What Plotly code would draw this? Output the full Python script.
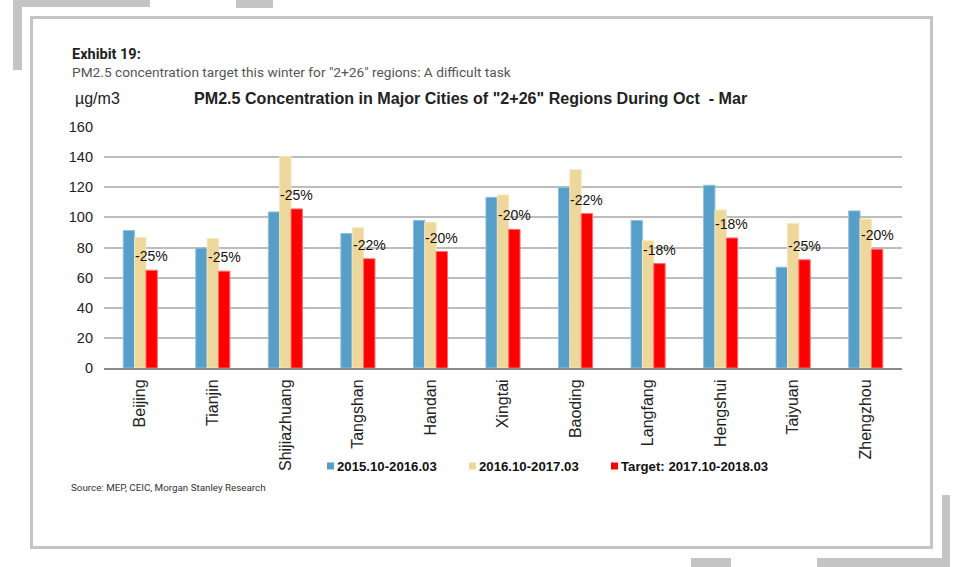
import plotly.graph_objects as go

# ---------------- data ----------------
cities = ["Beijing", "Tianjin", "Shijiazhuang", "Tangshan", "Handan", "Xingtai",
          "Baoding", "Langfang", "Hengshui", "Taiyuan", "Zhengzhou"]
pm_2015_16 = [91.3, 79.6, 103.6, 89.3, 98.0, 113.3, 119.8, 98.0, 121.3, 66.9, 104.3]
pm_2016_17 = [86.7, 86.0, 140.5, 93.1, 96.7, 114.9, 131.6, 84.5, 104.9, 96.0, 98.9]
pm_target = [64.9, 64.3, 105.6, 72.5, 77.3, 92.0, 102.5, 69.3, 86.3, 71.8, 78.9]
cut_labels = ["-25%", "-25%", "-25%", "-22%", "-20%", "-20%", "-22%", "-18%", "-18%", "-25%", "-20%"]
series_names = ["2015.10-2016.03", "2016.10-2017.03", "Target: 2017.10-2018.03"]
y_ticks = [0, 20, 40, 60, 80, 100, 120, 140, 160]

# ---------------- style ----------------
W, H = 960, 567
PL, PR, PT, PB = 104, 902, 127, 368      # plot area in pixels
colors = ["#579fc9", "#eed79b", "#ff0000"]
edge = ["#8fc0dc", "#f6e6bd", "#ff6a6a"]
FONT = "Liberation Sans, Arial"
HFONT = "Roboto"
GRAY = "#c4c4c4"


def px(x):
    return (x - PL) / (PR - PL)


def py(y):
    return (PB - y) / (PB - PT)


fig = go.Figure()
for name, vals, c, e in zip(series_names, [pm_2015_16, pm_2016_17, pm_target], colors, edge):
    fig.add_trace(go.Bar(x=cities, y=vals, name=name, marker=dict(color=c, line=dict(color=e, width=1)),
                         showlegend=False))

annotations = []
# data labels above the target bars
for city, v, lab in zip(cities, pm_target, cut_labels):
    annotations.append(dict(x=city, y=v, xref="x", yref="y", text=lab, showarrow=False,
                            xanchor="center", yanchor="middle", xshift=11.3, yshift=14,
                            font=dict(family=FONT, size=14, color="#111")))

# titles / header texts
annotations += [
    dict(x=px(70), y=py(55), xref="paper", yref="paper", text="<b>Exhibit 19:</b>", showarrow=False,
         xanchor="left", yanchor="middle", font=dict(family=HFONT, size=14.5, color="#222")),
    dict(x=px(70), y=py(72), xref="paper", yref="paper",
         text='PM2.5 concentration target this winter for "2+26" regions: A difficult task', showarrow=False,
         xanchor="left", yanchor="middle", font=dict(family=HFONT, size=13.7, color="#555")),
    dict(x=px(73), y=py(98), xref="paper", yref="paper", text="\u00b5g/m3", showarrow=False,
         xanchor="left", yanchor="middle", font=dict(family=FONT, size=16, color="#222")),
    dict(x=px(470.5), y=py(98), xref="paper", yref="paper",
         text='<b>PM2.5 Concentration in Major Cities of "2+26" Regions During Oct  - Mar</b>', showarrow=False,
         xanchor="center", yanchor="middle", font=dict(family=FONT, size=16.1, color="#222")),
    dict(x=px(69), y=py(487), xref="paper", yref="paper",
         text="Source: MEP, CEIC, Morgan Stanley Research", showarrow=False,
         xanchor="left", yanchor="middle", font=dict(family=HFONT, size=9.8, color="#333")),
]

shapes = []
# custom legend
leg_x = [327, 469, 611]
for lx, name, c in zip(leg_x, series_names, colors):
    shapes.append(dict(type="rect", xref="paper", yref="paper", x0=px(lx), x1=px(lx + 7),
                       y0=py(462.5), y1=py(469.5), fillcolor=c, line=dict(width=0)))
    annotations.append(dict(x=px(lx + 8), y=py(466), xref="paper", yref="paper", text="<b>%s</b>" % name,
                            showarrow=False, xanchor="left", yanchor="middle",
                            font=dict(family=FONT, size=13.2, color="#111")))

# decorative frame
shapes.append(dict(type="rect", xref="paper", yref="paper", x0=px(31.5), x1=px(931.5), y0=py(547.5), y1=py(17.5),
                   line=dict(color=GRAY, width=3), fillcolor="rgba(0,0,0,0)", layer="below"))
for (x0, y0, x1, y1) in [(13, 0, 150, 7), (13, 0, 22, 70), (236, 0, 273, 8),
                         (942, 495, 950, 567), (817, 558, 950, 567), (691, 558, 731, 567)]:
    shapes.append(dict(type="rect", xref="paper", yref="paper", x0=px(x0), x1=px(x1), y0=py(y1), y1=py(y0),
                       fillcolor=GRAY, line=dict(width=0), layer="below"))

fig.update_layout(
    width=W, height=H,
    margin=dict(l=PL, r=W - PR, t=PT, b=H - PB, pad=0),
    paper_bgcolor="white", plot_bgcolor="white",
    barmode="group", bargap=0.53, bargroupgap=0,
    showlegend=False,
    annotations=annotations, shapes=shapes,
    font=dict(family=FONT, size=16, color="#222"),
)
fig.update_yaxes(range=[0, 160], tickvals=y_ticks, showgrid=True, gridcolor="#bdbdbd", gridwidth=1.5,
                 zeroline=False, showline=False, ticks="", ticklabelstandoff=10,
                 tickfont=dict(family=FONT, size=14.5, color="#222"))
fig.update_xaxes(showline=True, linecolor="#8a8a8a", linewidth=2, ticks="", tickangle=-90,
                 tickfont=dict(family=FONT, size=16, color="#222"), ticklabelstandoff=3)

fig.write_html("out.html", config={"displayModeBar": False},
               post_script="document.body.style.margin='0';")
